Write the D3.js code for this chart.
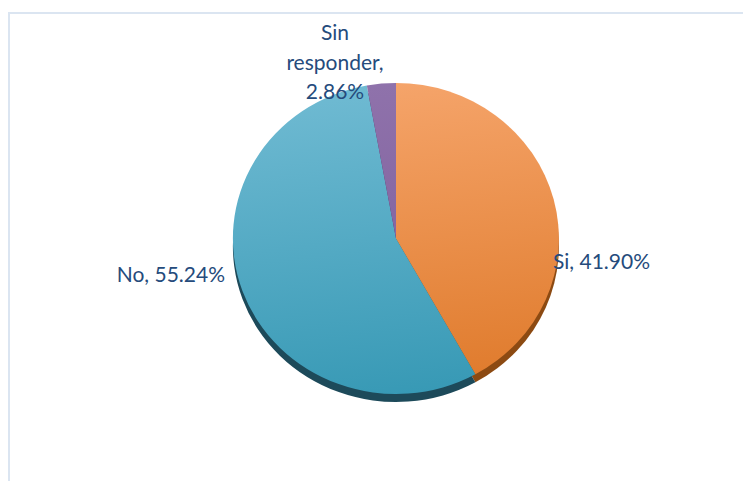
<!DOCTYPE html>
<html>
<head>
<meta charset="utf-8">
<script src="https://cdn.jsdelivr.net/npm/d3@7"></script>
<style>
  html, body { margin: 0; padding: 0; background: #fff; }
  svg { display: block; }
</style>
</head>
<body>
<svg id="chart" width="743" height="481"></svg>
<script>
// ---- data ----
const categories = ["Si", "No", "Sin responder"];
const values = [41.90, 55.24, 2.86];
const valueLabels = ["41.90%", "55.24%", "2.86%"];

// ---- styles ----
const faceTop = ["#f5a46a", "#6fbad2", "#8f72ab"];
const faceBottom = ["#df7a2b", "#3799b5", "#7a5a98"];
const sideColors = ["#8c4a12", "#1d4a5a", "#4a3560"];

const W = 743, H = 481;
const cx = 396, cy = 238.5, rx = 163, ry = 155.5, depth = 8;

const svg = d3.select("#chart");
const defs = svg.append("defs");

// frame
svg.append("rect")
  .attr("x", 9).attr("y", 13)
  .attr("width", W + 20).attr("height", H + 20)
  .attr("fill", "none")
  .attr("stroke", "#dbe5f1")
  .attr("stroke-width", 2);

categories.forEach((c, i) => {
  const g = defs.append("linearGradient")
    .attr("id", "grad" + i)
    .attr("gradientUnits", "userSpaceOnUse")
    .attr("x1", 0).attr("y1", -1).attr("x2", 0.25).attr("y2", 1);
  g.append("stop").attr("offset", "0%").attr("stop-color", faceTop[i]);
  g.append("stop").attr("offset", "100%").attr("stop-color", faceBottom[i]);
});

const pie = d3.pie().sort(null).value(d => d)(values);
const arc = d3.arc().innerRadius(0).outerRadius(1);

// side (depth)
const side = svg.append("g")
  .attr("transform", `translate(${cx},${cy + depth}) scale(${rx},${ry})`);
side.selectAll("path").data(pie).join("path")
  .attr("d", arc)
  .attr("fill", (d, i) => sideColors[i]);

// face
const face = svg.append("g")
  .attr("transform", `translate(${cx},${cy}) scale(${rx},${ry})`);
face.selectAll("path").data(pie).join("path")
  .attr("d", arc)
  .attr("fill", (d, i) => `url(#grad${i})`);

// labels (layout offsets relative to pie centre)
const labelLayout = [
  { dx: 157, dy: 30.5, anchor: "start", lines: d => [categories[0] + ", " + valueLabels[0]] },
  { dx: -171, dy: 43.5, anchor: "end", lines: d => [categories[1] + ", " + valueLabels[1]] },
  { dx: -61, dy: -198.5, anchor: "middle", lines: d => ["Sin", "responder,", valueLabels[2]] }
];

const lineH = 29.5;
labelLayout.forEach((L, i) => {
  const t = svg.append("text")
    .attr("x", cx + L.dx)
    .attr("y", cy + L.dy)
    .attr("text-anchor", L.anchor)
    .attr("font-family", "Lato, 'Open Sans', sans-serif")
    .attr("font-size", 21)
    .attr("fill", "#254b7c");
  L.lines().forEach((s, k) => {
    t.append("tspan")
      .attr("x", cx + L.dx)
      .attr("dy", k === 0 ? 0 : lineH)
      .text(s);
  });
});
</script>
</body>
</html>
